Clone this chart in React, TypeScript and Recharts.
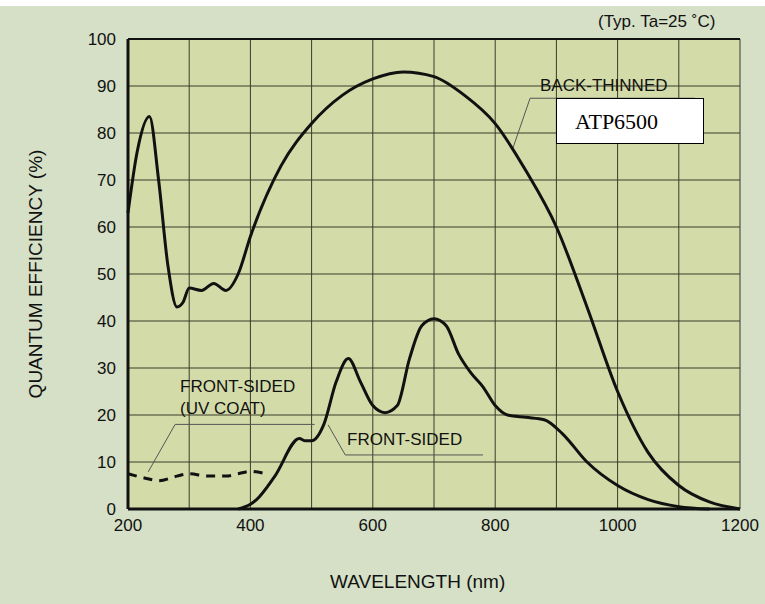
import React from 'react';
import { ComposedChart, Line, XAxis, YAxis, CartesianGrid, ReferenceLine } from 'recharts';

const backThinned: [number, number][] = [
  [200, 63], [215, 76], [235, 83.5], [250, 70], [265, 52], [280, 43], [290, 44], [300, 47],
  [320, 46.5], [340, 48], [360, 46.5], [380, 50], [400, 58], [450, 73], [500, 82], [550, 88],
  [600, 91.5], [650, 93], [700, 92], [750, 88], [800, 82], [850, 72], [900, 60], [950, 43],
  [1000, 25], [1050, 12], [1100, 5], [1150, 1.5], [1200, 0],
];
const frontSided: [number, number][] = [
  [380, 0], [400, 1], [410, 2], [440, 7], [480, 15], [490, 14.5], [500, 14.5], [520, 18],
  [540, 27], [560, 32], [580, 27], [600, 22], [620, 20.5], [640, 22], [660, 32], [680, 39],
  [700, 40.5], [720, 39], [740, 33], [760, 29], [780, 26], [800, 22], [820, 20], [850, 19.5],
  [880, 19], [910, 16], [950, 10], [1000, 5], [1050, 2], [1100, 0.5], [1150, 0],
];
const uvCoat: [number, number][] = [
  [200, 7.5], [230, 6.5], [250, 6], [280, 7], [300, 7.5], [330, 7], [360, 7], [380, 7.5],
  [400, 8], [430, 7.3],
];
const xTicks = [200, 300, 400, 500, 600, 700, 800, 900, 1000, 1100, 1200];
const yTicks = [0, 10, 20, 30, 40, 50, 60, 70, 80, 90, 100];

const byWl = new Map<number, any>();
const put = (arr: [number, number][], key: string) =>
  arr.forEach(([wl, v]) => {
    const row = byWl.get(wl) || { wl };
    row[key] = v;
    byWl.set(wl, row);
  });
put(backThinned, 'back');
put(frontSided, 'front');
put(uvCoat, 'uv');
const data = [...byWl.values()].sort((a, b) => a.wl - b.wl);

const font = '"Liberation Sans", Arial, sans-serif';
const lead = { stroke: '#555', strokeWidth: 1 };

export default function App() {
  return (
    <div style={{ position: 'absolute', left: 0, top: 0, width: 765, height: 604, background: '#d5e0c6', fontFamily: font }}>
      <div style={{ position: 'absolute', left: 0, top: 0, width: 765, height: 6, background: '#fff' }} />
      <ComposedChart width={765} height={604} data={data} margin={{ top: 39, right: 25, bottom: 65, left: 78 }}>
        <CartesianGrid stroke="#3a3a2a" strokeWidth={1} fill="#d3dca9" fillOpacity={1} horizontalValues={yTicks} verticalValues={xTicks} />
        <XAxis dataKey="wl" type="number" domain={[200, 1200]} ticks={xTicks} interval={0} height={30}
          tickFormatter={(v) => (v % 200 === 0 ? String(v) : '')}
          tick={{ fill: '#111', fontSize: 17, fontFamily: font }} tickLine={false}
          axisLine={{ stroke: '#111', strokeWidth: 3 }} tickMargin={4} />
        <YAxis type="number" domain={[0, 100]} ticks={yTicks} interval={0} width={50}
          tick={{ fill: '#111', fontSize: 17, fontFamily: font }} tickLine={false}
          axisLine={{ stroke: '#111', strokeWidth: 3 }} tickMargin={6} />
        <ReferenceLine y={100} stroke="#111" strokeWidth={2} />
        <ReferenceLine segment={[{ x: 857, y: 87.4 }, { x: 1126, y: 87.4 }]} {...lead} />
        <ReferenceLine segment={[{ x: 857, y: 87.4 }, { x: 829, y: 76.8 }]} {...lead} />
        <ReferenceLine segment={[{ x: 277, y: 18 }, { x: 505, y: 18 }]} {...lead} />
        <ReferenceLine segment={[{ x: 277, y: 18 }, { x: 233, y: 7.9 }]} {...lead} />
        <ReferenceLine segment={[{ x: 555, y: 11.5 }, { x: 780, y: 11.5 }]} {...lead} />
        <ReferenceLine segment={[{ x: 555, y: 11.5 }, { x: 527, y: 17.9 }]} {...lead} />
        <Line type="monotone" dataKey="back" stroke="#111" strokeWidth={3} dot={false} connectNulls isAnimationActive={false} />
        <Line type="monotone" dataKey="front" stroke="#111" strokeWidth={3} dot={false} connectNulls isAnimationActive={false} />
        <Line type="monotone" dataKey="uv" stroke="#111" strokeWidth={3} strokeDasharray="9 7" dot={false} connectNulls isAnimationActive={false} />
      </ComposedChart>
      <div style={{ position: 'absolute', left: 598, top: 12, fontSize: 17, color: '#111' }}>(Typ. Ta=25 ˚C)</div>
      <div style={{ position: 'absolute', left: 540, top: 76, fontSize: 17, color: '#111' }}>BACK-THINNED</div>
      <div style={{ position: 'absolute', left: 556, top: 98, width: 148, height: 46, background: '#fff', border: '1px solid #000', fontFamily: '"Liberation Serif", serif', fontSize: 22, lineHeight: '46px', boxSizing: 'border-box', paddingLeft: 18 }}>ATP6500</div>
      <div style={{ position: 'absolute', left: 180, top: 376, fontSize: 17, lineHeight: '22px', color: '#111' }}>FRONT-SIDED<br />(UV COAT)</div>
      <div style={{ position: 'absolute', left: 347, top: 430, fontSize: 17, color: '#111' }}>FRONT-SIDED</div>
      <div style={{ position: 'absolute', left: 330, top: 571, fontSize: 19, color: '#111' }}>WAVELENGTH (nm)</div>
      <div style={{ position: 'absolute', left: 36, top: 274, fontSize: 19, color: '#111', whiteSpace: 'nowrap', transform: 'translate(-50%, -50%) rotate(-90deg)' }}>QUANTUM EFFICIENCY (%)</div>
    </div>
  );
}
